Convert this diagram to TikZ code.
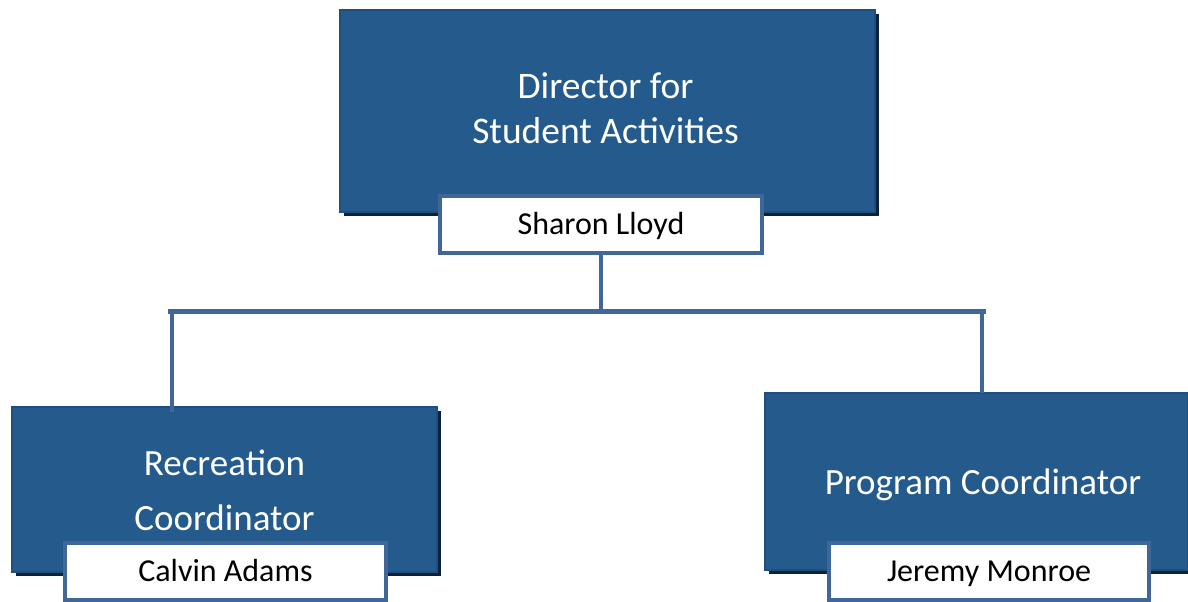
\documentclass[tikz,border=0pt]{standalone}
\usepackage{fontspec}
\setmainfont{Carlito}
\usetikzlibrary{shadows}
\definecolor{boxblue}{HTML}{245A8C}
\definecolor{boxedge}{HTML}{1F4F80}
\definecolor{shadowc}{HTML}{0D2238}
\definecolor{linec}{HTML}{40669A}
\tikzset{
  x=1pt, y=-1pt,
  rolebox/.style={draw=boxedge, line width=1.5pt, fill=boxblue,
    inner sep=0pt,
    drop shadow={shadow xshift=4pt, shadow yshift=-4pt, fill=shadowc, opacity=1}},
  roletext/.style={text=white, align=center, inner sep=0pt},
  namebox/.style={draw=linec, line width=4pt, fill=white, text=black,
    inner sep=0pt, text height=24pt, text depth=5pt,
    font=\fontsize{32}{36}\selectfont},
  conn/.style={draw=linec, line width=4pt}
}
\begin{document}
\begin{tikzpicture}
\useasboundingbox (0,0) rectangle (1188,602);
% top
\node[rolebox, minimum width=535pt, minimum height=202pt] (dir) at (607.5,111) {};
\node[roletext, font=\fontsize{37.5}{45}\selectfont] (dirt) at (605.5,108) {Director for\\Student Activities};
% connectors
\coordinate (hl) at (168,311);
\coordinate (hr) at (986,311);
\coordinate (lt) at (172,412);
\coordinate (rt) at (982,393);
% left
\node[rolebox, minimum width=425pt, minimum height=165pt] (rec) at (224.5,489.5) {};
\node[roletext, font=\fontsize{37}{55}\selectfont] (rect) at (224.5,490) {Recreation\\Coordinator};
% right
\node[rolebox, minimum width=423pt, minimum height=177pt] (prog) at (976.5,481.5) {};
\node[roletext, font=\fontsize{37}{40}\selectfont] (progt) at (983,485) {Program Coordinator};
\node[namebox, minimum width=322pt, minimum height=57pt] (sharon) at (601,224.5) {Sharon Lloyd};
\node[namebox, minimum width=321pt, minimum height=57pt] (calvin) at (225.5,571.5) {Calvin Adams};
\node[namebox, minimum width=320pt, minimum height=57pt] (jeremy) at (989,571.5) {Jeremy Monroe};
\draw[conn] (sharon.south) -- (sharon.south |- hl);
\draw[conn, line width=5pt] (hl) -- (hr);
\draw[conn, line width=3.5pt] (lt |- hl) -- (lt);
\draw[conn, line width=3.5pt] (rt |- hl) -- (rt);
\end{tikzpicture}
\end{document}
